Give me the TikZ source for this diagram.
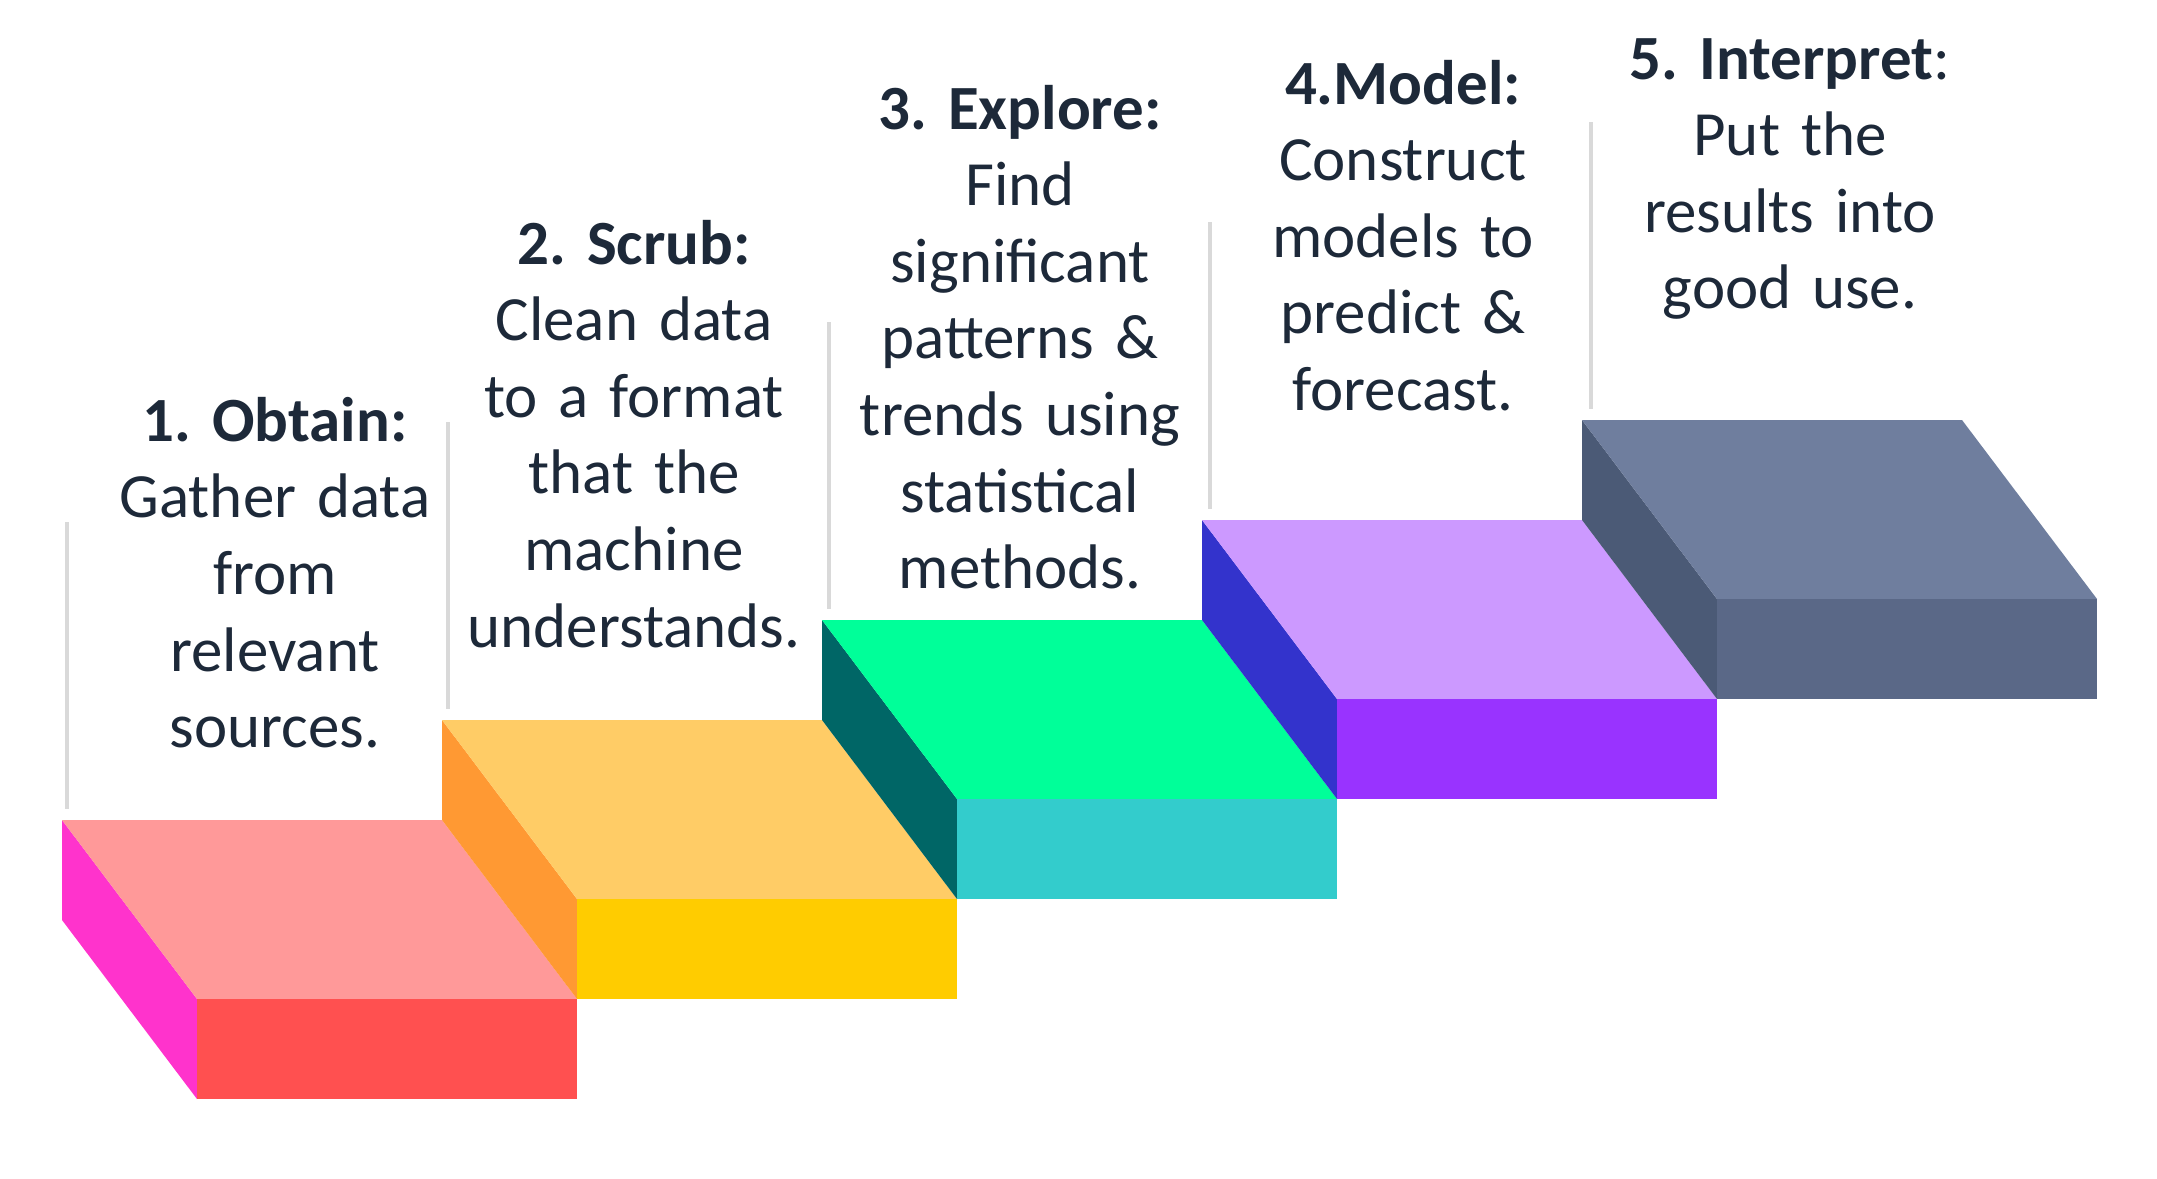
\documentclass[tikz,border=0pt]{standalone}
\usepackage{fontspec}
\setmainfont{Carlito}
\begin{document}
\frenchspacing
\definecolor{ink}{HTML}{1D2939}
\definecolor{guidegray}{HTML}{D9D9D9}
\definecolor{sAtop}{HTML}{FF9999}\definecolor{sAleft}{HTML}{FF33CC}\definecolor{sAfront}{HTML}{FF5050}
\definecolor{sBtop}{HTML}{FFCC66}\definecolor{sBleft}{HTML}{FF9933}\definecolor{sBfront}{HTML}{FFCC00}
\definecolor{sCtop}{HTML}{00FF99}\definecolor{sCleft}{HTML}{006666}\definecolor{sCfront}{HTML}{33CCCC}
\definecolor{sDtop}{HTML}{CC99FF}\definecolor{sDleft}{HTML}{3333CC}\definecolor{sDfront}{HTML}{9933FF}
\definecolor{sEtop}{HTML}{6F7E9E}\definecolor{sEleft}{HTML}{4B5A76}\definecolor{sEfront}{HTML}{5A6887}
\begin{tikzpicture}[x=0.01cm,y=-0.01cm,
  guide/.style={draw=guidegray,line width=0.045cm},
  label/.style={text=ink,anchor=base,inner sep=0pt,text width=8cm,align=center,
    font=\fontsize{17.9pt}{21.8pt}\selectfont}]
\useasboundingbox[fill=white] (0,0) rectangle (2157,1178);
% the five stair blocks: left face, top face, front face
\foreach \i/\ctop/\cleft/\cfront in {0/sAtop/sAleft/sAfront,1/sBtop/sBleft/sBfront,
    2/sCtop/sCleft/sCfront,3/sDtop/sDleft/sDfront,4/sEtop/sEleft/sEfront}{
  \pgfmathsetmacro\xo{62+380*\i}
  \pgfmathsetmacro\yo{820-100*\i}
  \fill[\cleft] (\xo,\yo) -- ++(135,179) -- ++(0,100) -- ++(-135,-179) -- cycle;
  \fill[\ctop] (\xo,\yo) -- ++(380,0) -- ++(135,179) -- ++(-380,0) -- cycle;
  \fill[\cfront] (\xo+135,\yo+179) rectangle ++(380,100);
  % thin separator above each block
  \draw[guide] (67+381*\i,522-100*\i) -- ++(0,287);
}
% step descriptions
\node[label] (obtain) at (275,441) {\textbf{1. Obtain:}\\Gather data\\from\\relevant\\sources.};
\node[label] (scrub) at (634,264) {\textbf{2. Scrub:}\\Clean data\\to a format\\that the\\machine\\understands.};
\node[label] (explore) at (1020,129) {\textbf{3. Explore:}\\Find\\significant\\patterns \&\\trends using\\statistical\\methods.};
\node[label] (model) at (1403,104) {\textbf{4.Model:}\\Construct\\models to\\predict \&\\forecast.};
\node[label] (interpret) at (1790,79) {\textbf{5. Interpret}:\\Put the\\results into\\good use.};
\end{tikzpicture}
\end{document}
